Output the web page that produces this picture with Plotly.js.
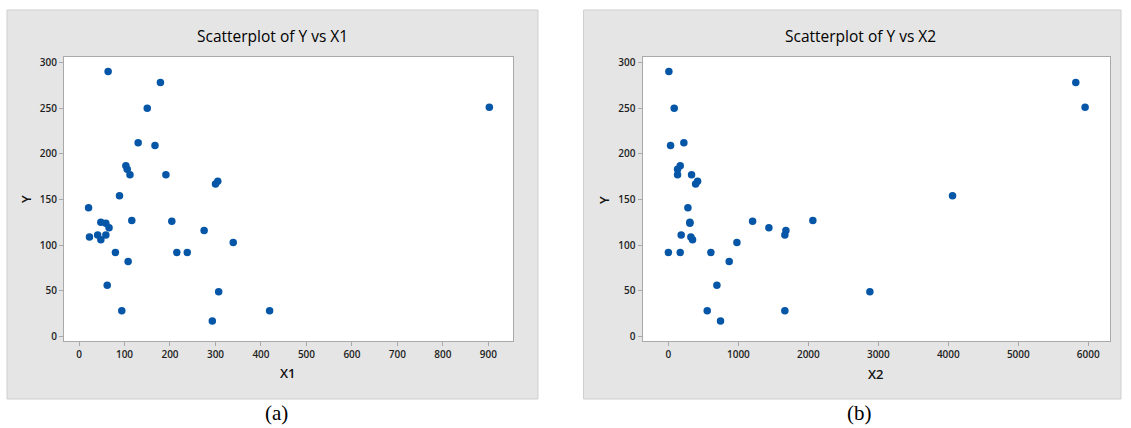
<!DOCTYPE html>
<html>
<head>
<meta charset="utf-8">
<script src="https://cdn.plot.ly/plotly-3.0.1.min.js"></script>
<style>
  html, body { margin: 0; padding: 0; background: #ffffff; }
  #chart { width: 1131px; height: 428px; }
</style>
</head>
<body>
<div id="chart"></div>
<script>
// Response and the two predictors, one entry per observation
const Y  = [290, 278, 250, 251, 212, 209, 187, 183, 177, 177, 167, 170, 154, 141,
            127, 126, 125, 124, 119, 116, 109, 111, 111, 106, 103, 92, 92, 92,
            82, 56, 49, 28, 28, 17];
const X1 = [64, 179, 150, 902, 130, 167, 103, 106, 112, 191, 300, 305, 89, 21,
            116, 204, 48, 59, 66, 275, 23, 41, 59, 48, 339, 80, 215, 238,
            108, 62, 307, 94, 419, 293];
const X2 = [7, 5821, 83, 5954, 221, 31, 169, 131, 131, 331, 389, 417, 4060, 279,
            2064, 1203, 307, 307, 1436, 1679, 321, 183, 1664, 345, 979, 0, 169, 607,
            869, 693, 2879, 555, 1664, 745];

const panelTitles = ['Scatterplot of Y vs X1', 'Scatterplot of Y vs X2'];
const xTitles = ['X1', 'X2'];
const yTitle = 'Y';
const captions = ['(a)', '(b)'];

const W = 1131, H = 428;
const px = v => v / W;            // pixel -> paper x
const py = v => 1 - v / H;        // pixel -> paper y (from top)

const dotColor = '#0656a8';
const frameColor = '#a9a9a9';
const uiFont = 'Open Sans, Noto Sans, sans-serif';

const axisBase = {
  showgrid: false,
  zeroline: false,
  showline: true,
  mirror: true,
  linecolor: frameColor,
  linewidth: 1,
  ticks: 'outside',
  ticklen: 4,
  tickwidth: 1,
  tickcolor: frameColor,
  tickfont: { family: uiFont, size: 10, color: '#1e1e1e', weight: 600 },
  fixedrange: true
};

const traces = [
  { x: X1, y: Y, type: 'scatter', mode: 'markers', xaxis: 'x', yaxis: 'y',
    marker: { color: dotColor, size: 7.5 }, hoverinfo: 'x+y' },
  { x: X2, y: Y, type: 'scatter', mode: 'markers', xaxis: 'x2', yaxis: 'y2',
    marker: { color: dotColor, size: 7.5 }, hoverinfo: 'x+y' }
];

const yDom = [py(341), py(57)];

const titleFont = { family: uiFont, size: 15.5, color: '#000000' };
const axisTitleFont = { family: uiFont, size: 13, color: '#111111', weight: 600 };
const captionFont = { family: 'Liberation Serif, Times New Roman, serif', size: 21, color: '#000000' };

const layout = {
  width: W, height: H,
  margin: { l: 0, r: 0, t: 0, b: 0 },
  paper_bgcolor: '#ffffff',
  plot_bgcolor: '#ffffff',
  showlegend: false,
  xaxis: Object.assign({}, axisBase, {
    domain: [px(64), px(513)], anchor: 'y',
    range: [-33, 954], tick0: 0, dtick: 100
  }),
  yaxis: Object.assign({}, axisBase, {
    domain: yDom, anchor: 'x',
    range: [-5, 306], tick0: 0, dtick: 50
  }),
  xaxis2: Object.assign({}, axisBase, {
    domain: [px(642.5), px(1110)], anchor: 'y2',
    range: [-370, 6310], tick0: 0, dtick: 1000
  }),
  yaxis2: Object.assign({}, axisBase, {
    domain: yDom, anchor: 'x2',
    range: [-5, 306], tick0: 0, dtick: 50
  }),
  shapes: [
    // grey graph panels
    { type: 'rect', xref: 'paper', yref: 'paper', layer: 'below',
      x0: px(7), x1: px(538), y0: py(399), y1: py(10),
      fillcolor: '#e5e5e5', line: { color: '#cfcfcf', width: 1 } },
    { type: 'rect', xref: 'paper', yref: 'paper', layer: 'below',
      x0: px(583.5), x1: px(1121), y0: py(399), y1: py(10),
      fillcolor: '#e5e5e5', line: { color: '#cfcfcf', width: 1 } },
    // white data regions
    { type: 'rect', xref: 'x domain', yref: 'y domain', layer: 'below',
      x0: 0, x1: 1, y0: 0, y1: 1, fillcolor: '#ffffff', line: { width: 0 } },
    { type: 'rect', xref: 'x2 domain', yref: 'y2 domain', layer: 'below',
      x0: 0, x1: 1, y0: 0, y1: 1, fillcolor: '#ffffff', line: { width: 0 } }
  ],
  annotations: [
    { text: panelTitles[0], xref: 'paper', yref: 'paper', x: px(272), y: py(36),
      showarrow: false, xanchor: 'center', yanchor: 'middle', font: titleFont },
    { text: panelTitles[1], xref: 'paper', yref: 'paper', x: px(860), y: py(36),
      showarrow: false, xanchor: 'center', yanchor: 'middle', font: titleFont },
    { text: xTitles[0], xref: 'paper', yref: 'paper', x: px(288), y: py(373),
      showarrow: false, xanchor: 'center', yanchor: 'middle', font: axisTitleFont },
    { text: xTitles[1], xref: 'paper', yref: 'paper', x: px(876), y: py(374),
      showarrow: false, xanchor: 'center', yanchor: 'middle', font: axisTitleFont },
    { text: yTitle, xref: 'paper', yref: 'paper', x: px(26), y: py(199),
      showarrow: false, xanchor: 'center', yanchor: 'middle', textangle: -90,
      font: axisTitleFont },
    { text: yTitle, xref: 'paper', yref: 'paper', x: px(604), y: py(200),
      showarrow: false, xanchor: 'center', yanchor: 'middle', textangle: -90,
      font: axisTitleFont },
    { text: captions[0], xref: 'paper', yref: 'paper', x: px(276), y: py(413),
      showarrow: false, xanchor: 'center', yanchor: 'middle', font: captionFont },
    { text: captions[1], xref: 'paper', yref: 'paper', x: px(859), y: py(413),
      showarrow: false, xanchor: 'center', yanchor: 'middle', font: captionFont }
  ]
};

Plotly.newPlot('chart', traces, layout, { displayModeBar: false, staticPlot: true });
</script>
</body>
</html>
